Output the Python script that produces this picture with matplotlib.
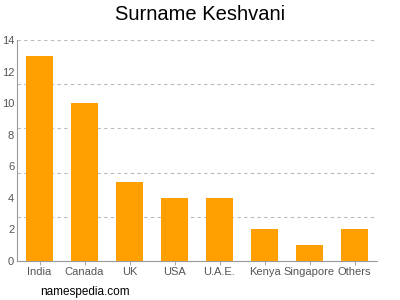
import matplotlib
matplotlib.use("Agg")
import numpy as np
import matplotlib.pyplot as plt

plt.rcParams["font.family"] = ["Liberation Sans", "DejaVu Sans"]

# Surname counts by country.
countries = ["India", "Canada", "UK", "USA", "U.A.E.", "Kenya", "Singapore", "Others"]
counts = [13, 10, 5, 4, 4, 2, 1, 2]
y_ticks = [0, 2, 4, 6, 8, 10, 12, 14]
grid_levels = [2.8, 5.6, 8.4, 11.2, 14.0]

fig = plt.figure(figsize=(4, 3), dpi=100)
ax = fig.add_axes([0.0425, 0.13, 0.90, 0.7367])

x = np.arange(len(countries))
ax.bar(x, counts, width=0.62, color="#FFA000", zorder=3)

for level in grid_levels:
    ax.axhline(level, color="#BBBBBB", linestyle=(0, (3, 3)), linewidth=0.8, zorder=1)

ax.set_xlim(-0.5, len(countries) - 0.5)
ax.set_ylim(0, 14)
ax.set_xticks(x)
ax.set_xticklabels(countries)
ax.set_yticks(y_ticks)

for side in ["top", "right"]:
    ax.spines[side].set_visible(False)
for side in ["left", "bottom"]:
    ax.spines[side].set_color("#999999")
    ax.spines[side].set_linewidth(0.8)

ax.tick_params(axis="x", colors="#999999", labelcolor="#555555",
               labelsize=8, length=3, width=0.6, pad=1.5)
ax.tick_params(axis="y", colors="#999999", labelcolor="#555555",
               labelsize=8, length=0, pad=2)

fig.text(0.5, 0.953, "Surname Keshvani", ha="center", va="center", fontsize=14.5, color="#000000")
fig.text(0.1, 0.027, "namespedia.com", ha="left", va="center", fontsize=8.5, color="#000000")

fig.savefig("out.png", dpi=100)
